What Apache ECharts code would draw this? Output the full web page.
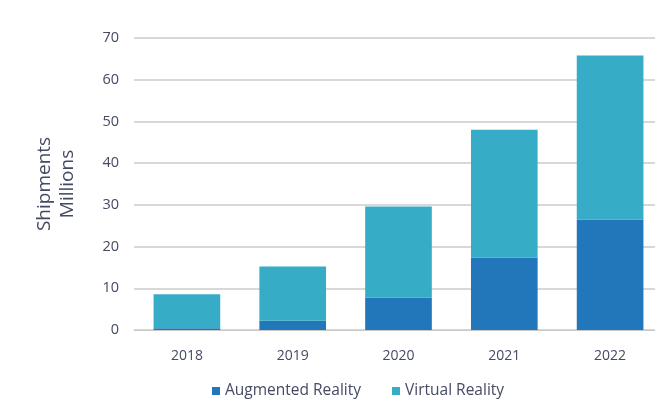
<!DOCTYPE html>
<html><head><meta charset="utf-8">
<script src="https://cdn.jsdelivr.net/npm/echarts@6/dist/echarts.min.js"></script>
<style>html,body{margin:0;padding:0;background:#fff}#c{width:655px;height:406px}</style>
</head><body><div id="c"></div>
<script>
const categories = ['2018','2019','2020','2021','2022'];
const augmented = [0.4, 2.2, 7.8, 17.3, 26.5];
const virtualR = [8.2, 13.0, 21.8, 30.7, 39.3];
const yTicks = {min:0, max:70, interval:10};
const chart = echarts.init(document.getElementById('c'));
const txt = '#444a63';
chart.setOption({
  animation:false,
  textStyle:{fontFamily:'Open Sans'},
  grid:{left:134, width:529, top:38, height:292, outerBoundsMode:'none'},
  legend:{top:378, left:207, itemWidth:8, itemHeight:8, itemGap:31, icon:'rect',
    textStyle:{color:txt, fontSize:15.5, fontFamily:'Open Sans'}},
  xAxis:{type:'category', data:categories, axisTick:{show:false},
    axisLine:{lineStyle:{color:'#c8c8c8'}},
    axisLabel:{color:txt, fontSize:14, margin:19}},
  yAxis:{type:'value', min:yTicks.min, max:yTicks.max, interval:yTicks.interval,
    name:'Shipments\nMillions', nameLocation:'middle', nameGap:55, nameRotate:90,
    nameTextStyle:{color:txt, fontSize:19, lineHeight:23},
    axisLabel:{color:txt, fontSize:14.5, margin:15},
    splitLine:{lineStyle:{color:'#cbcbcb', width:1.5}}},
  series:[
    {name:'Augmented Reality', type:'bar', stack:'s', data:augmented, barWidth:'63%', itemStyle:{color:'#2277ba'}},
    {name:'Virtual Reality', type:'bar', stack:'s', data:virtualR, barWidth:'63%', itemStyle:{color:'#36acc7'}}
  ]
});
</script></body></html>
